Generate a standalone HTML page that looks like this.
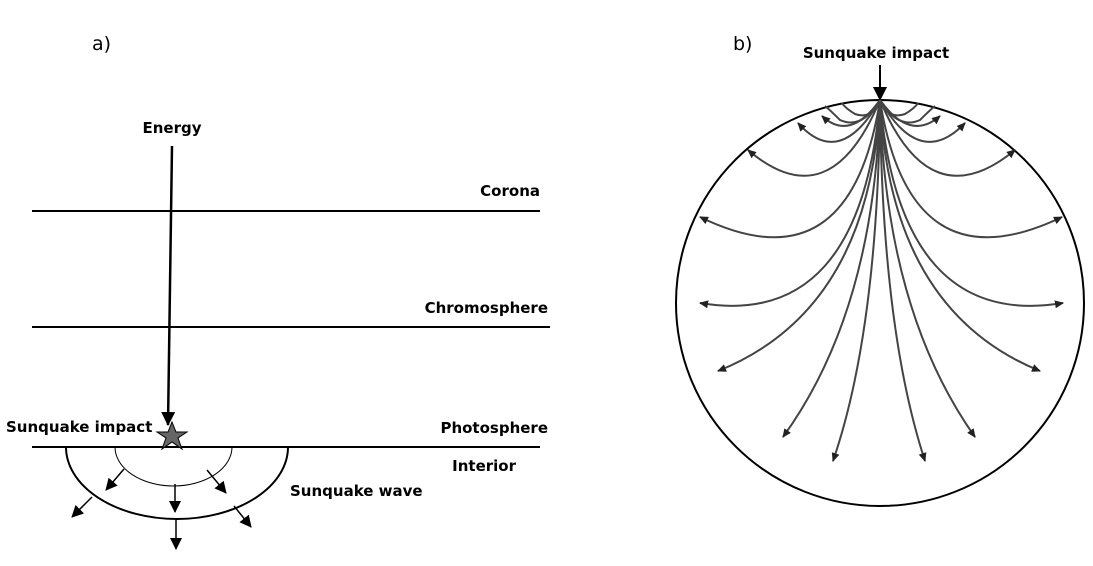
<!DOCTYPE html>
<html><head><meta charset="utf-8"><style>
body{margin:0;background:#fff}
svg{display:block}
text{font-family:"DejaVu Sans","Liberation Sans",sans-serif}
.l{font-weight:bold;font-size:15px}
</style></head><body>
<svg width="1093" height="566" viewBox="0 0 1093 566">
<defs>
<marker id="ah" markerWidth="12" markerHeight="12" refX="11" refY="6" orient="auto" markerUnits="userSpaceOnUse"><path d="M0,0L12,6L0,12z" fill="#000"/></marker>
<marker id="ah2" markerWidth="14" markerHeight="14" refX="13" refY="7" orient="auto" markerUnits="userSpaceOnUse"><path d="M0,0L14,7L0,14z" fill="#000"/></marker>
<marker id="ah3" markerWidth="9" markerHeight="8" refX="8" refY="4" orient="auto" markerUnits="userSpaceOnUse"><path d="M0,0L9,4L0,8z" fill="#222"/></marker>
</defs>
<g>
<text x="92" y="50" font-size="19">a)</text>
<text class="l" x="172" y="133" text-anchor="middle">Energy</text>
<line x1="32" y1="211" x2="540" y2="211" stroke="#000" stroke-width="2"/>
<line x1="32" y1="327" x2="550" y2="327" stroke="#000" stroke-width="2"/>
<line x1="32" y1="447" x2="540" y2="447" stroke="#000" stroke-width="2"/>
<text class="l" x="540" y="196" text-anchor="end">Corona</text>
<text class="l" x="548" y="313" text-anchor="end">Chromosphere</text>
<text class="l" x="548" y="433" text-anchor="end">Photosphere</text>
<text class="l" x="516" y="471" text-anchor="end">Interior</text>
<text class="l" x="6" y="432">Sunquake impact</text>
<text class="l" x="290" y="496">Sunquake wave</text>
<line x1="172" y1="146" x2="168" y2="425" stroke="#000" stroke-width="2.5" marker-end="url(#ah2)"/>
<path d="M66,447 A111,72 0 0 0 288,447" fill="none" stroke="#000" stroke-width="2"/>
<path d="M115,447 A54,36 0 0 0 232,447" fill="none" stroke="#000" stroke-width="1"/>
<g stroke="#000" stroke-width="1.5">
<line x1="124" y1="469" x2="106" y2="490" marker-end="url(#ah)"/>
<line x1="175" y1="484" x2="175" y2="512" marker-end="url(#ah)"/>
<line x1="207" y1="470" x2="226" y2="493" marker-end="url(#ah)"/>
<line x1="92" y1="497" x2="72" y2="517" marker-end="url(#ah)"/>
<line x1="176" y1="520" x2="176" y2="549" marker-end="url(#ah)"/>
<line x1="234" y1="506" x2="251" y2="527" marker-end="url(#ah)"/>
</g>
<polygon points="172,422 176,432 187,432 178,438 182,449 172,442 162,449 166,438 157,432 168,432" fill="#666" stroke="#000" stroke-width="1"/>
</g>
<g>
<text x="733" y="50" font-size="19">b)</text>
<text class="l" x="876" y="58" text-anchor="middle">Sunquake impact</text>
<line x1="880" y1="65" x2="880" y2="100" stroke="#000" stroke-width="2" marker-end="url(#ah2)"/>
<ellipse cx="880" cy="303" rx="204" ry="203" fill="none" stroke="#000" stroke-width="2"/>
<g fill="none" stroke="#444" stroke-width="2">
<path d="M880,100 Q872,120 855,114 Q845,108 842,103"/>
<path d="M880,100 Q888,120 905,114 Q915,108 918,103"/>
<path d="M880,100 Q862,130 840,120 Q830,110 825,106" />
<path d="M880,100 Q898,130 920,120 Q930,110 935,106"/>
<path d="M880,100 Q850,142 822,116" marker-end="url(#ah3)"/>
<path d="M880,100 Q910,142 940,116" marker-end="url(#ah3)"/>
<path d="M880,100 Q840,170 798,123" marker-end="url(#ah3)"/>
<path d="M880,100 Q920,170 965,123" marker-end="url(#ah3)"/>
<path d="M880,100 Q830,220 748,150" marker-end="url(#ah3)"/>
<path d="M880,100 Q930,220 1015,150" marker-end="url(#ah3)"/>
<path d="M880,100 Q850,290 700,217" marker-end="url(#ah3)"/>
<path d="M880,100 Q910,290 1062,217" marker-end="url(#ah3)"/>
<path d="M880,100 Q860,330 700,303" marker-end="url(#ah3)"/>
<path d="M880,100 Q900,330 1063,303" marker-end="url(#ah3)"/>
<path d="M880,100 Q870,310 718,371" marker-end="url(#ah3)"/>
<path d="M880,100 Q890,310 1040,371" marker-end="url(#ah3)"/>
<path d="M880,100 Q875,310 783,437" marker-end="url(#ah3)"/>
<path d="M880,100 Q885,310 975,437" marker-end="url(#ah3)"/>
<path d="M880,100 Q878,330 833,461" marker-end="url(#ah3)"/>
<path d="M880,100 Q882,330 925,461" marker-end="url(#ah3)"/>
</g>
</g>
</svg>
</body></html>
